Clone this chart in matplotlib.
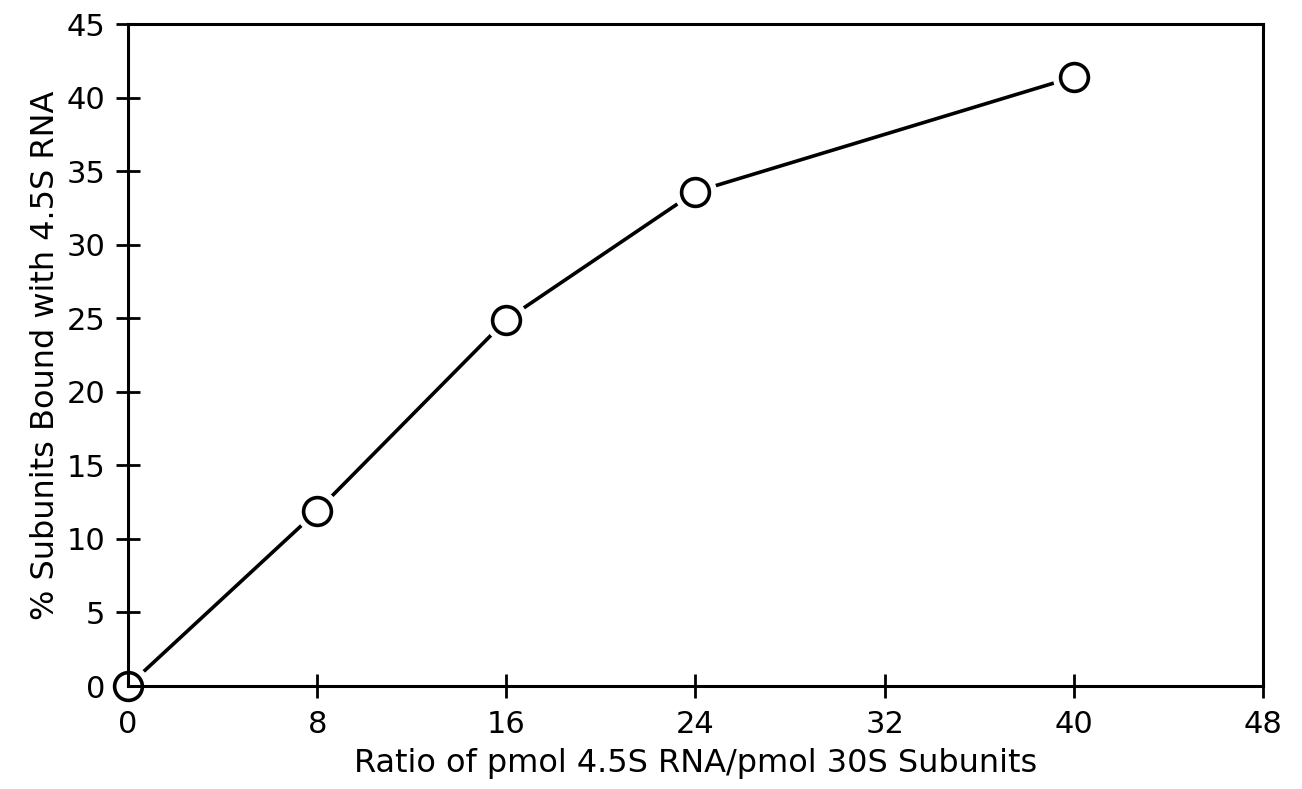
import matplotlib.pyplot as plt

# data
ratio = [0, 8, 16, 24, 40]
pct_bound = [0, 11.9, 24.9, 33.6, 41.4]

x_ticks = [0, 8, 16, 24, 32, 40, 48]
y_ticks = [0, 5, 10, 15, 20, 25, 30, 35, 40, 45]

plt.rcParams['font.family'] = ['DejaVu Sans']

fig = plt.figure(figsize=(13.02, 7.89), dpi=100)
ax = fig.add_axes([0.0983, 0.1305, 0.8717, 0.839])

# line, then a white halo round each point to leave the gap, then the open circles
ax.plot(ratio, pct_bound, color='black', lw=2.6, zorder=2, clip_on=False)
ax.plot(ratio, pct_bound, ls='none', marker='o', ms=30, mfc='white', mec='white',
        zorder=2.1, clip_on=False)
ax.plot(ratio, pct_bound, ls='none', marker='o', ms=20, mfc='none', mec='black',
        mew=2.6, zorder=3, clip_on=False)

ax.set_xlim(0, 48)
ax.set_ylim(0, 45)
ax.set_xticks(x_ticks)
ax.set_yticks(y_ticks)

for s in ax.spines.values():
    s.set_linewidth(2.2)
ax.tick_params(direction='inout', length=17, width=2, labelsize=22)
ax.tick_params(axis='x', pad=9)
ax.tick_params(axis='y', pad=8)

ax.set_xlabel("Ratio of pmol 4.5S RNA/pmol 30S Subunits", fontsize=23, labelpad=6)
ax.set_ylabel("% Subunits Bound with 4.5S RNA", fontsize=23, labelpad=4)

fig.savefig("out.png", dpi=100)
